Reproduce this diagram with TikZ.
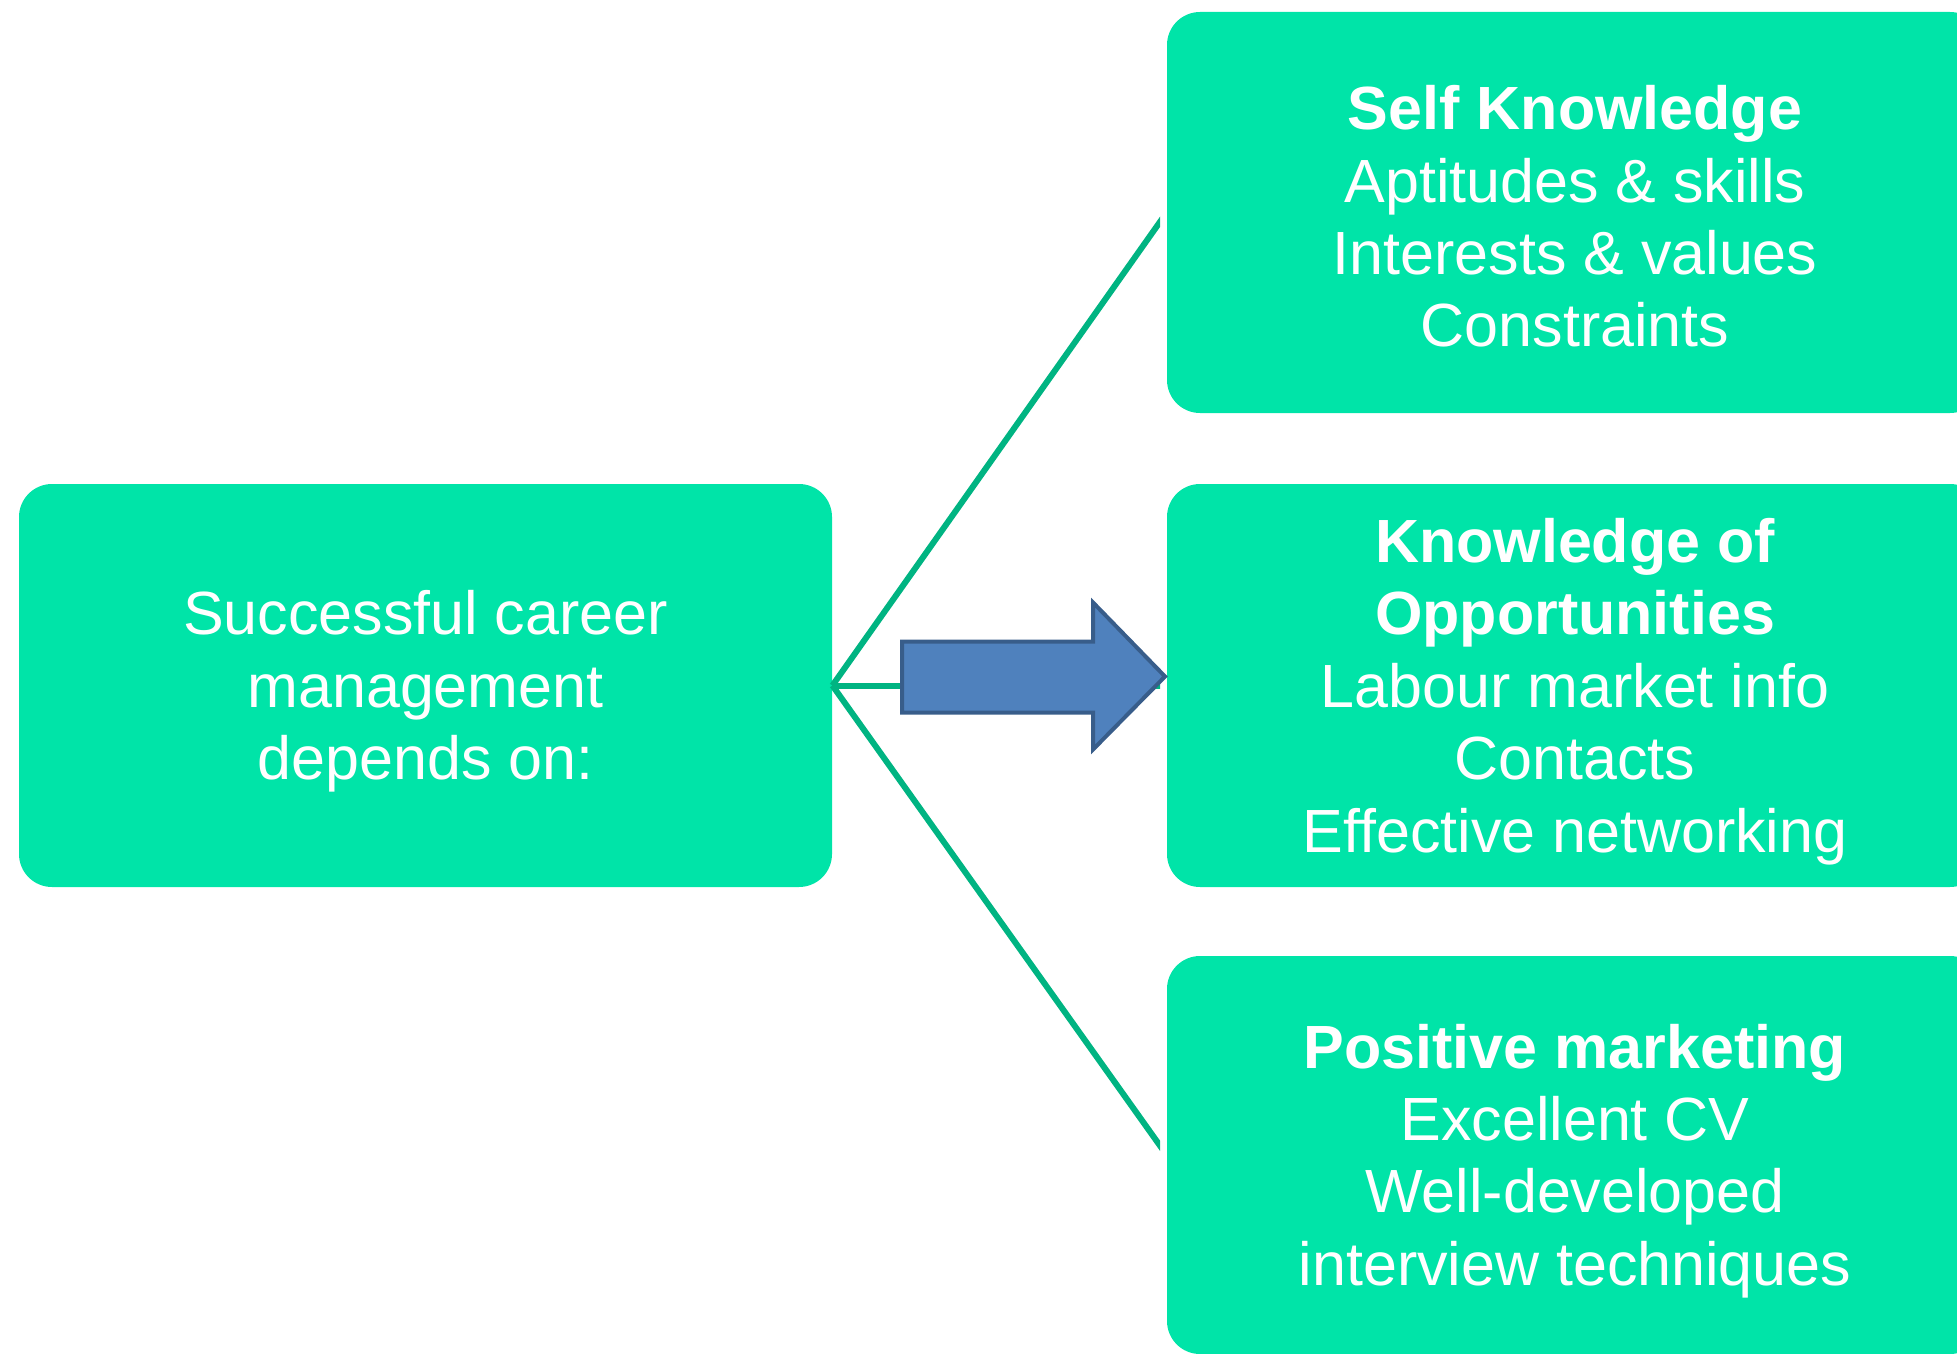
\documentclass[tikz,border=0pt]{standalone}
\usepackage{fontspec}
\setmainfont{Liberation Sans}
\definecolor{boxfill}{RGB}{0,228,168}
\definecolor{linkgreen}{RGB}{0,180,130}
\definecolor{arrowfill}{RGB}{79,129,189}
\definecolor{arrowedge}{RGB}{56,93,138}
\begin{document}
\begin{tikzpicture}[x=0.5pt,y=-0.5pt,
  card/.style={fill=boxfill, draw=none, rounded corners=16.5pt, inner sep=0pt},
  cardtext/.style={text=white, align=center, inner sep=0pt,
    font=\fontsize{30.5pt}{36.2pt}\selectfont},
  link/.style={draw=linkgreen, line width=3pt},
  bigarrow/.style={draw=arrowedge, fill=arrowfill, line width=2pt, line join=miter}]
\useasboundingbox (0,0) rectangle (1957,1353);
\clip (0,0) rectangle (1957,1353);
% boxes
\node[card, minimum width=406.5pt, minimum height=201.5pt] (left) at (425.5,685.5) {};
\node[card, minimum width=408pt, minimum height=200.5pt] (self) at (1575,212.5) {};
\node[card, minimum width=408pt, minimum height=201.5pt] (opp) at (1575,685.5) {};
\node[card, minimum width=408pt, minimum height=199pt] (mkt) at (1575,1155) {};
% texts
\node[cardtext] (leftT) at ([yshift=-3pt]left.center)
  {Successful career\\ management\\ depends on:};
\node[cardtext] (selfT) at ([yshift=-2pt]self.center)
  {\textbf{Self Knowledge}\\ Aptitudes \& skills\\ Interests \& values\\ Constraints};
\node[cardtext] (oppT) at ([yshift=-3pt]opp.center)
  {\textbf{Knowledge of}\\ \textbf{Opportunities}\\ Labour market info\\ Contacts\\ Effective networking};
\node[cardtext] (mktT) at ([yshift=-3pt]mkt.center)
  {\textbf{Positive marketing}\\ Excellent CV\\ Well-developed\\ interview techniques};
% connectors
\begin{scope}
  \clip (0,0) rectangle (1160,1353);
  \draw[link] (left.east) -- (self.west);
  \draw[link] (left.east) -- (mkt.west);
  \draw[link] (left.east) -- (opp.west);
\end{scope}
% block arrow
\coordinate (tail) at (902,677);
\draw[bigarrow] (tail) ++(0,-35.5) -- ++(191,0) -- ++(0,-39) -- ++(72,74)
  -- ++(-72,73) -- ++(0,-37) -- ++(-191,0) -- cycle;
\end{tikzpicture}
\end{document}
